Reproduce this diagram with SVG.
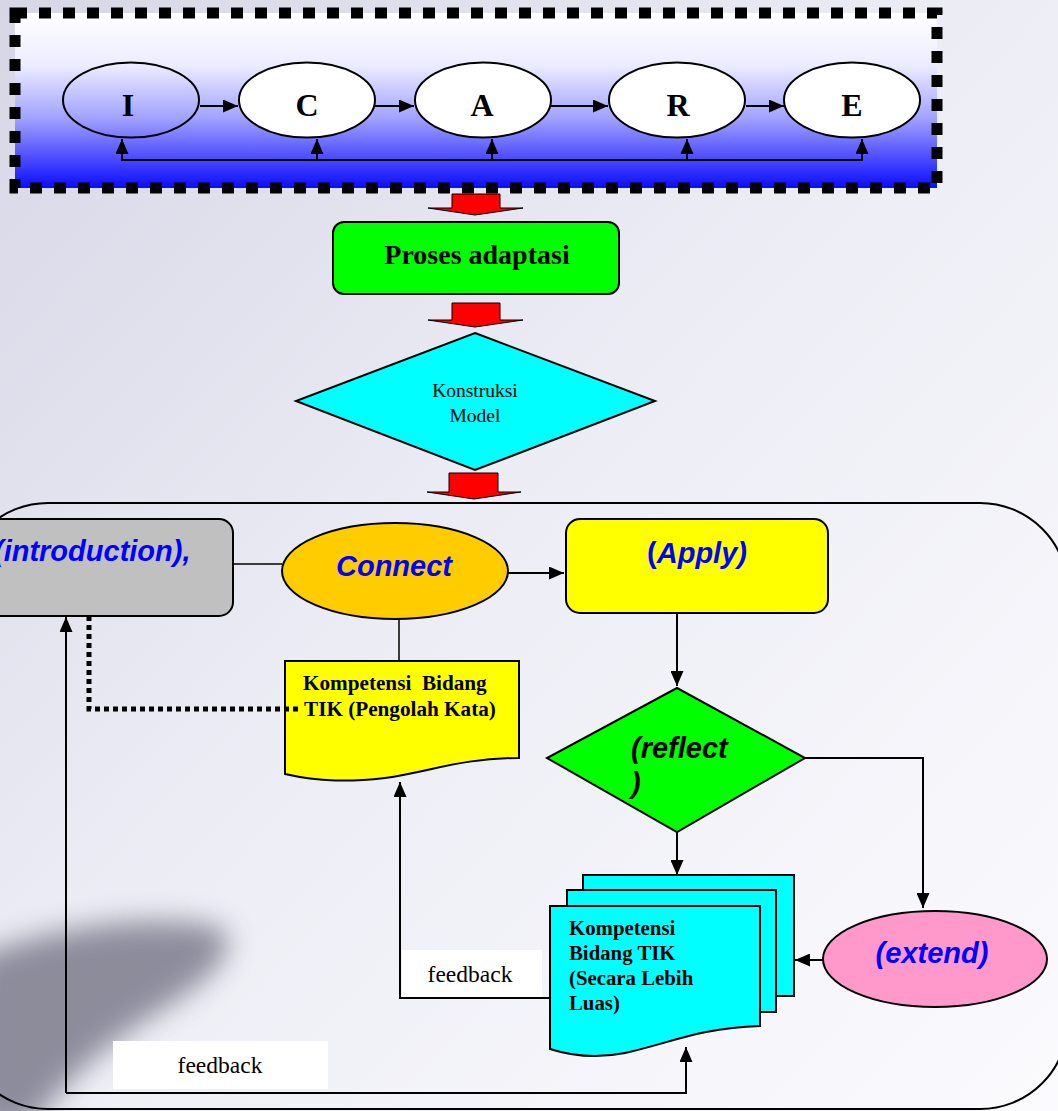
<svg xmlns="http://www.w3.org/2000/svg" width="1058" height="1111" viewBox="0 0 1058 1111">
<defs>
<linearGradient id="bg" x1="0" y1="0" x2="1" y2="1">
<stop offset="0" stop-color="#d6d6e6"/>
<stop offset="0.45" stop-color="#ececf5"/>
<stop offset="1" stop-color="#fbfbfe"/>
</linearGradient>
<linearGradient id="topfill" x1="0" y1="0" x2="0" y2="1">
<stop offset="0" stop-color="#ffffff"/>
<stop offset="0.3" stop-color="#ececff"/>
<stop offset="0.6" stop-color="#a2a2ff"/>
<stop offset="1" stop-color="#0c0cff"/>
</linearGradient>
<filter id="blur" x="-50%" y="-50%" width="200%" height="200%">
<feGaussianBlur stdDeviation="14"/>
</filter>
<marker id="ah" markerUnits="userSpaceOnUse" markerWidth="15" markerHeight="13" refX="15" refY="6.5" orient="auto">
<path d="M0,0 L15,6.5 L0,13 Z" fill="#000"/>
</marker>
<style>
.ln{fill:none;stroke:#000;stroke-width:2}
.thin{fill:none;stroke:#000;stroke-width:1.5}
.arr{fill:none;stroke:#000;stroke-width:2;marker-end:url(#ah)}
.shape{stroke:#000;stroke-width:2}
.blk{fill:#ff0000;stroke:#000;stroke-width:1}
.letter{font-family:"Liberation Serif",serif;font-weight:bold;font-size:32px;fill:#000;text-anchor:middle}
.serifb{font-family:"Liberation Serif",serif;font-weight:bold;fill:#000}
.serif{font-family:"Liberation Serif",serif;fill:#000}
.sansbi{font-family:"Liberation Sans",Arial,sans-serif;font-weight:bold;font-style:italic;font-size:29px;fill:#0000ff}
</style>
</defs>

<rect x="0" y="0" width="1058" height="1111" fill="url(#bg)"/>
<path d="M-30,960 C40,930 150,910 222,928 C245,955 195,990 145,1020 C100,1050 60,1085 30,1130 L-30,1130 Z" fill="#7c7c8c" opacity="0.85" filter="url(#blur)"/>

<g id="container">
<rect x="-40" y="503" width="1108" height="606" rx="88" ry="88" fill="none" stroke="#000" stroke-width="2"/>
</g>

<g id="icare-box">
<rect x="15" y="13" width="922" height="175" fill="url(#topfill)"/>
<rect x="15" y="13" width="922" height="175" fill="none" stroke="#000" stroke-width="11" stroke-dasharray="12 12"/>
</g>

<g id="node-I">
<ellipse cx="131" cy="100" rx="68" ry="37.5" fill="none" class="shape"/>
<text x="128" y="116" class="letter">I</text>
</g>
<g id="node-C">
<ellipse cx="307" cy="100" rx="68" ry="37.5" fill="#fff" class="shape"/>
<text x="307" y="116" class="letter">C</text>
</g>
<g id="node-A">
<ellipse cx="483" cy="100" rx="68" ry="37.5" fill="#fff" class="shape"/>
<text x="482" y="116" class="letter">A</text>
</g>
<g id="node-R">
<ellipse cx="677" cy="100" rx="68" ry="37.5" fill="#fff" class="shape"/>
<text x="678" y="116" class="letter">R</text>
</g>
<g id="node-E">
<ellipse cx="852" cy="100" rx="68" ry="37.5" fill="#fff" class="shape"/>
<text x="852" y="116" class="letter">E</text>
</g>

<g id="node-proses">
<rect x="333" y="222" width="286" height="72" rx="11" ry="11" fill="#00ff00" class="shape"/>
<text x="477" y="264" class="serifb" font-size="28" text-anchor="middle">Proses adaptasi</text>
</g>

<g id="node-konstruksi">
<polygon points="475,333 655,401 475,470 296,401" fill="#00ffff" class="shape"/>
<text x="475" y="397" class="serif" font-size="19.5" text-anchor="middle">Konstruksi</text>
<text x="475" y="422" class="serif" font-size="19.5" text-anchor="middle">Model</text>
</g>

<g id="node-introduction">
<rect x="-20" y="519" width="253" height="97" rx="14" ry="14" fill="#c0c0c0" class="shape"/>
<text x="-6" y="561" class="sansbi">(introduction),</text>
</g>

<g id="node-connect">
<ellipse cx="395" cy="571" rx="113" ry="48" fill="#ffcc00" class="shape"/>
<text x="394" y="576" class="sansbi" text-anchor="middle">Connect</text>
</g>

<g id="node-apply">
<rect x="566" y="519" width="262" height="94" rx="14" ry="14" fill="#ffff00" class="shape"/>
<text x="697" y="563" class="sansbi" text-anchor="middle"><tspan font-style="normal">(</tspan>Apply)</text>
</g>

<g id="node-kompetensi1">
<path d="M285,661 H519 V758 C460,758 430,772 385,778 C350,782 320,782 285,774 Z" fill="#ffff00" class="shape"/>
<text x="303" y="690" class="serifb" font-size="21.2" xml:space="preserve">Kompetensi  Bidang</text>
<text x="304" y="716" class="serifb" font-size="21.2">TIK (Pengolah Kata)</text>
</g>

<g id="node-reflect">
<polygon points="677,688 805,758 677,832 547,758" fill="#00ff00" class="shape"/>
<text x="631" y="758" class="sansbi" font-size="23.5" style="fill:#000">(reflect</text>
<text x="631" y="793" class="sansbi" font-size="23.5" style="fill:#000">)</text>
</g>

<g id="node-extend">
<ellipse cx="935" cy="959" rx="112" ry="48" fill="#ff99cc" class="shape"/>
<text x="932" y="963" class="sansbi" text-anchor="middle">(extend)</text>
</g>

<g id="node-kompetensi2">
<rect x="583" y="875" width="211" height="121" fill="#00ffff" class="shape"/>
<rect x="567" y="890" width="209" height="122" fill="#00ffff" class="shape"/>
<path d="M550,906 H760 V1026 C700,1028 670,1043 625,1053 C600,1058 575,1057 550,1049 Z" fill="#00ffff" class="shape"/>
<text x="569" y="935" class="serifb" font-size="20.8">Kompetensi</text>
<text x="569" y="960" class="serifb" font-size="20.8">Bidang TIK</text>
<text x="569" y="985" class="serifb" font-size="20.8">(Secara Lebih</text>
<text x="569" y="1010" class="serifb" font-size="20.8">Luas)</text>
</g>

<g id="connectors">
<polygon class="blk" points="452,194 500,194 500,208 523,208 475,215 428,208 452,208"/>
<polygon class="blk" points="452,303 500,303 500,320 523,320 475,327 428,320 452,320"/>
<polygon class="blk" points="449,473 498,473 498,492 521,492 474,499 427,492 449,492"/>

<path class="arr" d="M200,106 H238"/>
<path class="arr" d="M375,106 H414"/>
<path class="arr" d="M551,106 H608"/>
<path class="arr" d="M746,106 H784"/>
<path class="ln" d="M122,160 H862"/>
<path class="arr" d="M122,161 V139"/>
<path class="arr" d="M317,161 V139"/>
<path class="arr" d="M492,161 V139"/>
<path class="arr" d="M687,161 V139"/>
<path class="arr" d="M862,161 V139"/>

<path class="thin" d="M233,564 H282"/>
<path class="arr" d="M508,573 H564"/>
<path class="thin" d="M399,619 V661"/>
<path d="M89,616 V709 H298" fill="none" stroke="#000" stroke-width="5" stroke-dasharray="5 4"/>
<path class="arr" d="M677,613 V686"/>
<path class="ln" d="M805,758 H923 V760"/>
<path class="arr" d="M923,758 V908"/>
<path class="arr" d="M677,832 V875"/>
<path class="arr" d="M823,960 H795"/>
<path class="arr" d="M550,998 H400 V782"/>
<path class="arr" d="M66,1093 V617"/>
<path class="arr" d="M66,1093 H686 V1047"/>
</g>

<g id="labels">
<rect x="402" y="950" width="140" height="47" fill="#fff"/>
<text x="470" y="982" class="serif" font-size="23.5" text-anchor="middle">feedback</text>
<rect x="113" y="1041" width="215" height="48" fill="#fff"/>
<text x="220" y="1073" class="serif" font-size="23.5" text-anchor="middle">feedback</text>
</g>
</svg>
